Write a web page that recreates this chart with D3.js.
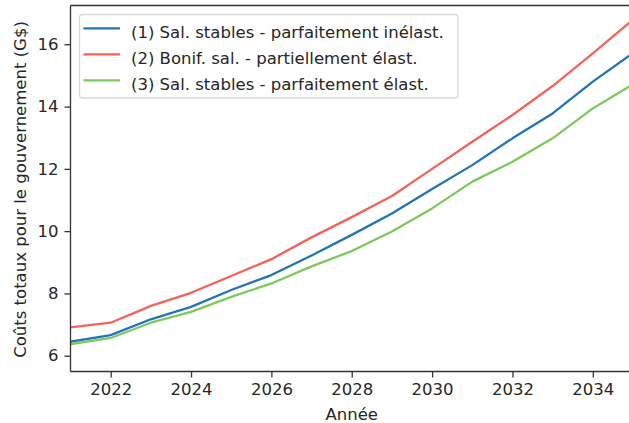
<!DOCTYPE html>
<html>
<head>
<meta charset="utf-8">
<script src="https://cdn.jsdelivr.net/npm/d3@7"></script>
<style>
  html, body { margin: 0; padding: 0; background: #fff; }
  svg { display: block; font-family: "DejaVu Sans", sans-serif; }
</style>
</head>
<body>
<svg id="chart" width="629" height="423"></svg>
<script>
const years = [2021,2022,2023,2024,2025,2026,2027,2028,2029,2030,2031,2032,2033,2034,2035];
const seriesNames = [
  "(1) Sal. stables - parfaitement inélast.",
  "(2) Bonif. sal. - partiellement élast.",
  "(3) Sal. stables - parfaitement élast."
];
const s1 = [6.45, 6.66, 7.17, 7.57, 8.11, 8.59, 9.22, 9.88, 10.57, 11.35, 12.12, 12.98, 13.78, 14.80, 15.72];
const s2 = [6.91, 7.06, 7.60, 8.02, 8.56, 9.10, 9.80, 10.45, 11.13, 12.00, 12.87, 13.73, 14.66, 15.71, 16.79];
const s3 = [6.37, 6.57, 7.06, 7.41, 7.89, 8.32, 8.87, 9.36, 9.99, 10.73, 11.59, 12.23, 12.98, 13.94, 14.72];
const xTicks = [2022, 2024, 2026, 2028, 2030, 2032, 2034];
const yTicks = [6, 8, 10, 12, 14, 16];
const colors = ["#2474b5", "#f2635a", "#7ec95d"];
const xLabel = "Année";
const yLabel = "Coûts totaux pour le gouvernement (G$)";

const svg = d3.select("#chart");
const L = 70.5, R = 633, T = 5.5, B = 371.5;
const x = d3.scaleLinear().domain([2021, 2035]).range([L, R]);
const y = d3.scaleLinear().domain([5.493, 17.246]).range([B, T]);
const textColor = "#262626";
const fs = 16.5;

const data = [s1, s2, s3];
const line = d3.line().x((d, i) => x(years[i])).y(d => y(d));

svg.append("clipPath").attr("id", "clip")
  .append("rect").attr("x", L).attr("y", T).attr("width", R - L).attr("height", B - T);

const g = svg.append("g").attr("clip-path", "url(#clip)");
data.forEach((s, i) => {
  g.append("path").datum(s)
    .attr("d", line)
    .attr("fill", "none")
    .attr("stroke", colors[i])
    .attr("stroke-width", 2.3)
    .attr("stroke-linejoin", "round")
    .attr("stroke-linecap", "square");
});

// axes
const xAxis = d3.axisBottom(x).tickValues(xTicks).tickFormat(d3.format("d")).tickSize(6).tickPadding(6);
const yAxis = d3.axisLeft(y).tickValues(yTicks).tickFormat(d3.format("d")).tickSize(6).tickPadding(6);

const gx = svg.append("g").attr("transform", `translate(0,${B})`).call(xAxis);
const gy = svg.append("g").attr("transform", `translate(${L},0)`).call(yAxis);
[gx, gy].forEach(a => {
  a.select(".domain").remove();
  a.selectAll(".tick line").attr("stroke", "#333").attr("stroke-width", 1.3);
  a.selectAll(".tick text").attr("fill", textColor).style("font-size", fs + "px").style("font-family", "DejaVu Sans");
});

// spines
const sp = svg.append("g").attr("stroke", "#333").attr("stroke-width", 1.3).attr("fill", "none");
sp.append("line").attr("x1", L).attr("x2", L).attr("y1", T).attr("y2", B);
sp.append("line").attr("x1", L).attr("x2", R).attr("y1", B).attr("y2", B);
sp.append("line").attr("x1", L).attr("x2", R).attr("y1", T).attr("y2", T);
sp.append("line").attr("x1", R).attr("x2", R).attr("y1", T).attr("y2", B);

// labels
svg.append("text")
  .attr("x", (L + R) / 2).attr("y", 419.5)
  .attr("text-anchor", "middle")
  .attr("fill", textColor)
  .style("font-size", fs + "px")
  .text(xLabel);
svg.append("text")
  .attr("transform", `translate(26,${(T + B) / 2 + 1}) rotate(-90)`)
  .attr("text-anchor", "middle")
  .attr("fill", textColor)
  .style("font-size", fs + "px")
  .text(yLabel);

// legend
const lg = svg.append("g");
lg.append("rect")
  .attr("x", 79.5).attr("y", 14.5).attr("width", 378.5).attr("height", 83.5)
  .attr("rx", 3).attr("fill", "#fff").attr("fill-opacity", 0.8)
  .attr("stroke", "#d9d9d9").attr("stroke-width", 1.3);
const rowY = [28.3, 54.3, 80.3];
seriesNames.forEach((n, i) => {
  lg.append("line")
    .attr("x1", 83.5).attr("x2", 120).attr("y1", rowY[i]).attr("y2", rowY[i])
    .attr("stroke", colors[i]).attr("stroke-width", 2.3);
  lg.append("text")
    .attr("x", 131).attr("y", rowY[i] + 9.2)
    .attr("fill", textColor)
    .style("font-size", fs + "px")
    .text(n);
});
</script>
</body>
</html>
